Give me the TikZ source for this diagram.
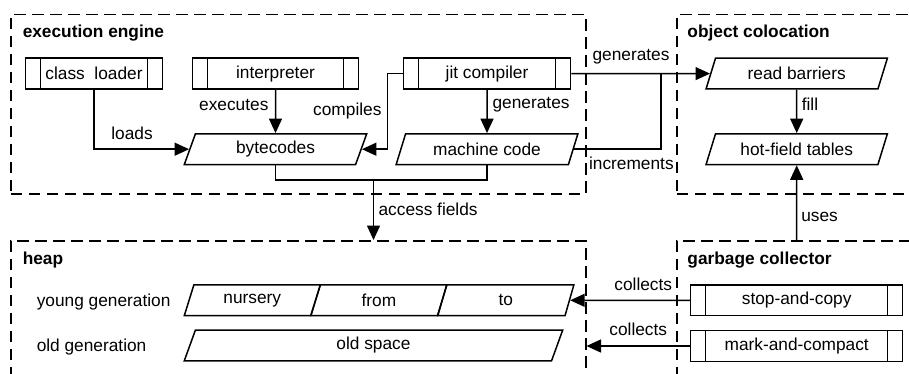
\documentclass[tikz,border=0pt]{standalone}
\usepackage{fontspec}
\setmainfont{Liberation Sans}
\usetikzlibrary{shapes,arrows.meta,positioning,calc}

\begin{document}
\begin{tikzpicture}[
        x=1pt, y=-1pt,
        font=\fontsize{17.3}{20}\selectfont,
        line width=1.5pt,
        group/.style={draw, dash pattern=on 11.5pt off 6.5pt, anchor=north west, inner sep=0pt},
        title/.style={font=\fontsize{17.3}{20}\selectfont\bfseries, anchor=base west, inner sep=0pt},
        proc/.style={rectangle, draw, minimum height=30.7pt, inner sep=0pt,
            path picture={\draw ([xshift=15pt]path picture bounding box.north west) -- ([xshift=15pt]path picture bounding box.south west)
                ([xshift=-15pt]path picture bounding box.north east) -- ([xshift=-15pt]path picture bounding box.south east);}},
        data/.style={trapezium, draw, trapezium left angle=64, trapezium right angle=116, trapezium stretches body, minimum height=30.7pt},
        arrow/.style={-{Triangle[length=14.5pt,width=13pt]}}
    ]
        \useasboundingbox (0,0) rectangle (909,374);
        \clip (0,0) rectangle (909,374);

        % Groups
        \node[group, minimum width=575pt, minimum height=179pt] (engine) at (10,14) {};
        \node[group, minimum width=260pt, minimum height=179pt] (coloc) at (676,14) {};
        \node[group, minimum width=575pt, minimum height=200pt] (heap) at (10,240) {};
        \node[group, minimum width=260pt, minimum height=200pt] (gc) at (676,240) {};
        \node[title] (enginetitle) at (22,37.5) {execution engine};
        \node[title] (coloctitle) at (686.7,37.5) {object colocation};
        \node[title] (heaptitle) at (22,264.5) {heap};
        \node[title] (gctitle) at (686.7,264.5) {garbage collector};

        % Blocks
        \node[proc, minimum width=136.6pt] (loader) at (94,73.6) {class\ \ loader};
        \node[proc, minimum width=166.3pt] (interp) at (275.5,73.6) {interpreter};
        \node[proc, minimum width=167.4pt] (jit) at (487,73.6) {jit compiler};
        \node[data, minimum width=182.4pt] (bytec) at (275.5,149.2) {bytecodes};
        \node[data, minimum width=181.7pt] (mcode) at (487,149.2) {machine code};
        \node[data, minimum width=181.3pt] (readb) at (796.7,73.6) {read barriers};
        \node[data, minimum width=181.3pt] (hot) at (796.7,149.2) {hot-field tables};
        \node[proc, minimum width=212pt] (stop) at (796.7,300.3) {stop-and-copy};
        \node[proc, minimum width=212pt] (mark) at (796.7,346) {mark-and-compact};

        % Heap
        \node[anchor=base west, inner sep=0pt] (young) at (36,306.5) {young generation};
        \node[anchor=base west, inner sep=0pt] (old) at (36,351.5) {old generation};
        \node[data, minimum width=136pt] (nursery) at (252.3,300.3) {nursery};
        \node[data, minimum width=136pt, right=-1.5pt of nursery] (from) {from};
        \node[data, minimum width=136pt, right=-1.5pt of from] (to) {to};
        \node[data, minimum width=378.4pt] (oldsp) at (373.5,345.4) {old space};

        \coordinate (incjoin) at (661,73.6);
        \coordinate (fieldjoin) at (373.5,179);

        % Arrows
        \draw[arrow] (loader) |- node[pos=0.7, above=5pt] {loads} (bytec.west);
        \draw[arrow] (interp) -- node[pos=0.35, left=3pt] {executes} (bytec);
        \draw[arrow] (jit.west) -- ++(-15,0) |- node[pos=0.25, left=2pt] {compiles} (bytec.east);
        \draw[arrow] (jit) -- node[pos=0.35, right=1.5pt] {generates} (mcode);
        \draw[arrow] (jit.east) -- node[pos=0.43, above=5pt] {generates} (readb.west);
        \draw (mcode.east) -| node[pos=0.33, below=4pt] {increments} (incjoin);
        \draw[arrow] (readb) -- node[pos=0.33, right=1pt] {fill} (hot);
        \draw (bytec.center |- bytec.south) -- ++(0,14.7) -| (mcode.center |- mcode.south);
        \draw[arrow] (fieldjoin) -- node[pos=0.49, right=1pt] {access fields} (fieldjoin |- heap.north);
        \draw[arrow] (hot.center |- gc.north) -- node[pos=0.31, right=0.5pt] {uses} (hot);
        \draw[arrow] (stop.west) -- node[pos=0.39, above=6pt] {collects} (to.east);
        \draw[arrow] (mark.west) -- node[pos=0.5, above=6.5pt] {collects} (mark.west -| heap.east);

    \end{tikzpicture}
\end{document}
